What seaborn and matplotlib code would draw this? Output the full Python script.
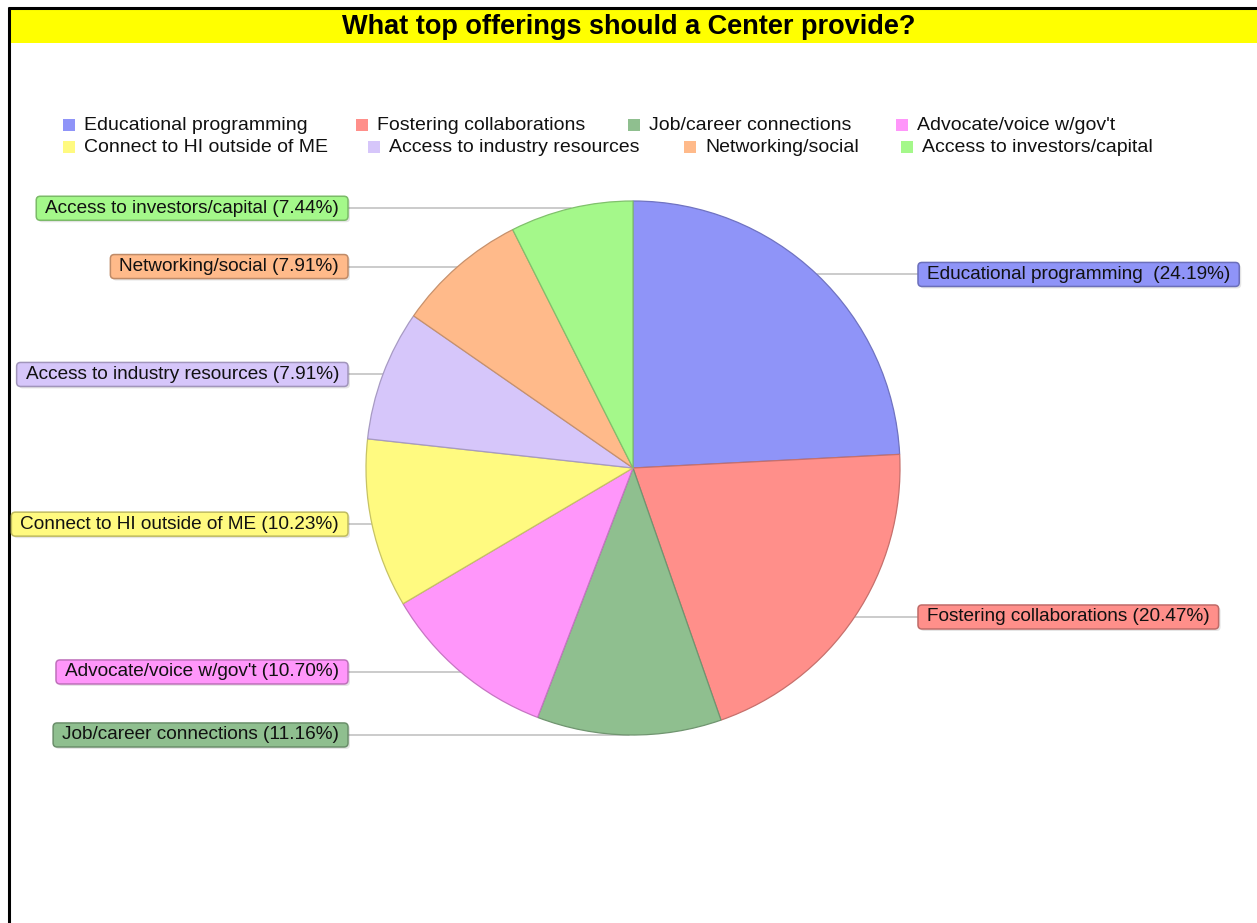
import matplotlib
matplotlib.use("Agg")
import numpy as np
import matplotlib.pyplot as plt
import matplotlib.colors as mcolors
from matplotlib.patches import Rectangle, FancyBboxPatch
import seaborn as sns

# Survey answers and their shares (percent)
categories = [
    "Educational programming",
    "Fostering collaborations",
    "Job/career connections",
    "Advocate/voice w/gov't",
    "Connect to HI outside of ME",
    "Access to industry resources",
    "Networking/social",
    "Access to investors/capital",
]
shares = [24.19, 20.47, 11.16, 10.70, 10.23, 7.91, 7.91, 7.44]
slice_colors = ["#8f94f8", "#ff8f8a", "#8fbf8f", "#ff96fa",
                "#fffa80", "#d6c6fa", "#ffba8a", "#a4f88a"]
label_gaps = ["  ", " ", " ", " ", " ", " ", " ", " "]
title = "What top offerings should a Center provide?"

# Layout (pixel units, origin top-left)
W, H = 1257, 923
CX, CY, R = 633, 468, 267
RIGHT_BOX_X, LEFT_BOX_X = 918, 348
BOX_PADX, BOX_H = 9, 24
LABEL_FS = 13.65
legend_rows = [(125, [63, 356, 628, 896], [0, 1, 2, 3]),
               (147, [63, 368, 684, 901], [4, 5, 6, 7])]

sns.set_theme(style="white")
plt.rcParams["font.family"] = ["Liberation Sans", "DejaVu Sans"]


def py(y):
    return H - y


def shade(c, f):
    r, g, b = mcolors.to_rgb(c)
    return (r * f, g * f, b * f)


fig = plt.figure(figsize=(W / 100, H / 100), dpi=100)
fig.patch.set_facecolor("white")
ax = fig.add_axes([0, 0, 1, 1])

wedges, _ = ax.pie(shares, colors=slice_colors, startangle=90, counterclock=False,
                   center=(CX, py(CY)), radius=R, frame=False,
                   wedgeprops=dict(linewidth=0.9))
for w, c in zip(wedges, slice_colors):
    w.set_edgecolor(shade(c, 0.78))
    w.set_zorder(3)

ax.set_xlim(0, W)
ax.set_ylim(0, H)
ax.set_aspect("auto")
ax.axis("off")

# Frame and title band
ax.add_patch(Rectangle((10, py(43)), W - 10, 34, facecolor="#ffff00",
                       edgecolor="none", zorder=1))
ax.plot([8, W], [py(8), py(8)], color="black", lw=2.2, zorder=6,
        solid_capstyle="butt")
ax.plot([9, 9], [py(7), 0], color="black", lw=2.2, zorder=6,
        solid_capstyle="butt")
ax.text(629, py(27), title, ha="center", va="center", fontsize=19.5,
        fontweight="bold", color="black", zorder=5)

# Legend entries
for ly, xs, idxs in legend_rows:
    for x, i in zip(xs, idxs):
        ax.add_patch(Rectangle((x, py(ly) - 6), 12, 12,
                               facecolor=slice_colors[i], edgecolor="none", zorder=4))
        ax.text(x + 21, py(ly), categories[i], ha="left", va="center",
                fontsize=14, color="#111111", zorder=4)

# Callout labels with leader lines
fig.canvas.draw()
renderer = fig.canvas.get_renderer()
for w, cat, val, gap, c in zip(wedges, categories, shares, label_gaps, slice_colors):
    ang = np.deg2rad((w.theta1 + w.theta2) / 2)
    ex = CX + R * np.cos(ang)
    ey = py(CY) + R * np.sin(ang)
    right = np.cos(ang) > 0
    box_edge = RIGHT_BOX_X if right else LEFT_BOX_X
    ax.plot([box_edge, ex], [ey, ey], color="#bdbdbd", lw=1.1, zorder=2)
    txt = f"{cat}{gap}({val:.2f}%)"
    if right:
        t = ax.text(RIGHT_BOX_X + BOX_PADX, ey, txt, ha="left", va="center",
                    fontsize=LABEL_FS, color="#111111", zorder=8)
    else:
        t = ax.text(LEFT_BOX_X - BOX_PADX, ey, txt, ha="right", va="center",
                    fontsize=LABEL_FS, color="#111111", zorder=8)
    bb = t.get_window_extent(renderer)
    bw = bb.width + 2 * BOX_PADX
    x0 = RIGHT_BOX_X if right else LEFT_BOX_X - bw
    ax.add_patch(FancyBboxPatch((x0 + 2, ey - BOX_H / 2 - 2), bw, BOX_H,
                                boxstyle="round,pad=0,rounding_size=4",
                                facecolor=(0, 0, 0, 0.10), edgecolor="none", zorder=6))
    ax.add_patch(FancyBboxPatch((x0, ey - BOX_H / 2), bw, BOX_H,
                                boxstyle="round,pad=0,rounding_size=4",
                                facecolor=c, edgecolor=shade(c, 0.75),
                                lw=1.1, zorder=7))

fig.savefig("out.png", dpi=100)
